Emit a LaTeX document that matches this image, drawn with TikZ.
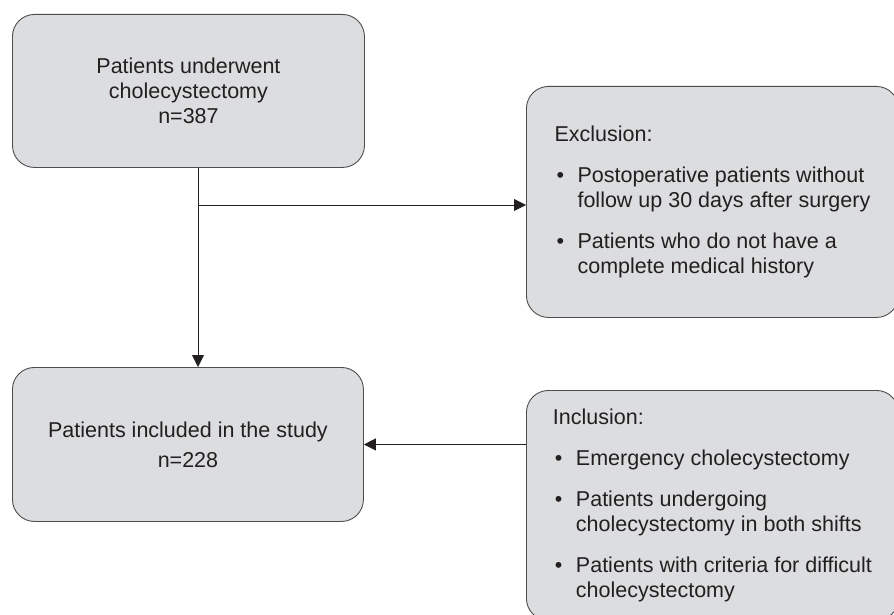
\documentclass[tikz,border=0pt]{standalone}
\usepackage{fontspec}
\setmainfont{Liberation Sans}
\usetikzlibrary{arrows.meta}

\definecolor{boxfill}{HTML}{DCDDDF}
\definecolor{boxline}{HTML}{4D4D4F}
\definecolor{inkdark}{HTML}{231F20}

% bullet line and its follow-on line in a list box
\newcommand{\bitem}[1]{\makebox[23pt][l]{\hspace{2pt}\textbullet}#1}
\newcommand{\bcont}[1]{\hspace*{23pt}#1}

\begin{document}
\begin{tikzpicture}[x=1pt, y=-1pt,
    flowbox/.style={draw=boxline, fill=boxfill, line width=0.9pt, rounded corners=22pt,
      text=inkdark, font=\fontsize{21.5}{25}\selectfont, inner sep=0pt},
    listbox/.style={flowbox, anchor=north west, align=left, minimum width=372pt},
    arr/.style={draw=inkdark, line width=0.9pt, -{Triangle[length=12pt, width=12pt]}}]
    \useasboundingbox (0, 0) rectangle (894, 615);
    \clip (0, 0) rectangle (894, 615);

    \node[flowbox, anchor=north west, minimum width=352pt, minimum height=153pt, align=center]
      (start) at (12, 14) {Patients underwent\\cholecystectomy\\n=387};
    \node[flowbox, anchor=north west, minimum width=351pt, minimum height=154pt, align=center,
      font=\fontsize{21.5}{30}\selectfont]
      (study) at (12, 367) {Patients included in the study\\n=228};

    \node[listbox, minimum height=231pt] (excl) at (526, 86) {Exclusion:\\[16pt]
      \bitem{Postoperative patients without}\\
      \bcont{follow up 30 days after surgery}\\[16pt]
      \bitem{Patients who do not have a}\\
      \bcont{complete medical history}};
    \node[listbox, minimum height=230pt] (incl) at (526, 390) {Inclusion:\\[16pt]
      \bitem{Emergency cholecystectomy}\\[16pt]
      \bitem{Patients undergoing}\\
      \bcont{cholecystectomy in both shifts}\\[16pt]
      \bitem{Patients with criteria for difficult}\\
      \bcont{cholecystectomy}};

    \coordinate (split) at (198, 205);
    \draw[arr] (split |- start.south) -- (split |- study.north);
    \draw[arr] (split) -- (split -| excl.west);
    \draw[arr] (incl.west |- study.east) -- (study.east);
  \end{tikzpicture}
\end{document}
